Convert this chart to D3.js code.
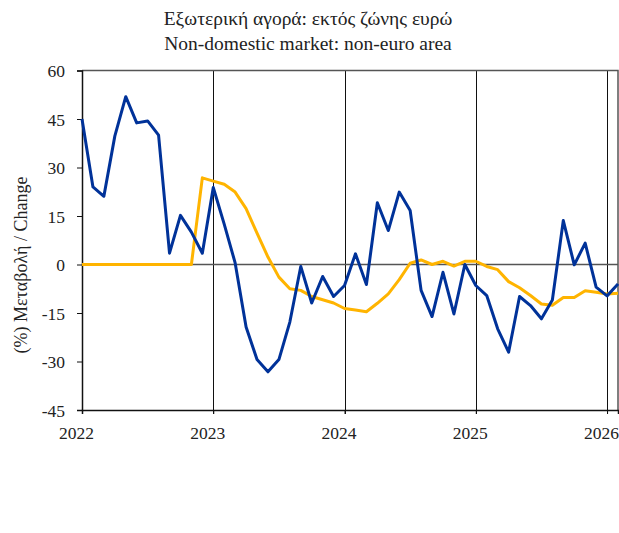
<!DOCTYPE html>
<html><head><meta charset="utf-8">
<script src="https://cdn.jsdelivr.net/npm/d3@7"></script>
<style>body{margin:0;background:#fff}svg{display:block}</style>
</head><body><svg id="c" width="619" height="533"></svg>
<script>
const titleLines = ["Εξωτερική αγορά: εκτός ζώνης ευρώ", "Non-domestic market: non-euro area"];
const yLabel = "(%) Μεταβολή / Change";
const months = ["2022-01","2022-02","2022-03","2022-04","2022-05","2022-06","2022-07","2022-08","2022-09","2022-10","2022-11","2022-12",
"2023-01","2023-02","2023-03","2023-04","2023-05","2023-06","2023-07","2023-08","2023-09","2023-10","2023-11","2023-12",
"2024-01","2024-02","2024-03","2024-04","2024-05","2024-06","2024-07","2024-08","2024-09","2024-10","2024-11","2024-12",
"2025-01","2025-02","2025-03","2025-04","2025-05","2025-06","2025-07","2025-08","2025-09","2025-10","2025-11","2025-12",
"2026-01","2026-02"];
const monthly = [45, 24, 21.1, 39.7, 51.9, 43.8, 44.4, 40, 3.5, 15.2, 10, 3.5,
 23.8, 12.5, 0.5, -19.3, -29.4, -33.2, -29.4, -17.8, -0.6, -11.9, -3.7, -9.9,
 -6.5, 3.3, -6.2, 19.1, 10.5, 22.4, 16.7, -8, -16.1, -2.4, -15.3, 0,
 -6.5, -9.6, -19.9, -27.1, -9.9, -12.7, -16.8, -11, 13.6, -0.1, 6.6, -7,
 -9.7, -6];
const average = [0, 0, 0, 0, 0, 0, 0, 0, 0, 0, 0, 26.8,
 25.8, 24.8, 22.4, 17.3, 9.7, 2.3, -3.9, -7.5, -8, -9.9, -10.9, -11.9,
 -13.6, -14.1, -14.6, -12, -9.1, -4.7, 0.4, 1.4, 0, 1, -0.5, 1,
 1, -0.6, -1.6, -5.3, -7.2, -9.6, -12.2, -12.6, -10.2, -10.2, -8.1, -8.6,
 -9.1, -8.9];
const yTicks = [60, 45, 30, 15, 0, -15, -30, -45];
const yearLabels = ["2022", "2023", "2024", "2025", "2026"];

const FONT = "Liberation Serif";
const svg = d3.select("#c");
const L = 82, R = 618, T = 70.5, B = 410;
const x = d3.scaleLinear().domain([0, months.length - 1]).range([L, R]);
const y = d3.scaleLinear().domain([-45, 60]).range([B, T]);
const idx = d => months.indexOf(d);

// year gridlines
const yearIdx = yearLabels.map(yl => idx(yl + "-01"));
svg.append("g").selectAll("line").data(yearIdx.slice(1)).join("line")
  .attr("x1", d => Math.round(x(d)) + 0.5).attr("x2", d => Math.round(x(d)) + 0.5)
  .attr("y1", T).attr("y2", B + 4).attr("stroke", "#111").attr("stroke-width", 1);

// zero line
svg.append("line").attr("x1", L).attr("x2", R).attr("y1", y(0)).attr("y2", y(0))
  .attr("stroke", "#555").attr("stroke-width", 1.5);

// frame top and right
svg.append("path").attr("d", `M${L},${T}H${R}V${B}`).attr("fill", "none").attr("stroke", "#555").attr("stroke-width", 1.5);

// y axis
const yAxis = d3.axisLeft(y).tickValues(yTicks).tickSize(5).tickPadding(12).tickFormat(d => String(d));
const gy = svg.append("g").attr("transform", `translate(${L},0)`).call(yAxis);
gy.select(".domain").attr("stroke", "#111").attr("stroke-width", 1.5);
gy.selectAll(".tick line").attr("stroke", "#111");
gy.selectAll(".tick text").attr("fill", "#222").attr("dy", "0.35em")
  .style("font-family", FONT).style("font-size", "17.5px");

// x axis
const xAxis = d3.axisBottom(x).tickValues(yearIdx).tickSize(4).tickFormat((d, i) => yearLabels[i]);
const gx = svg.append("g").attr("transform", `translate(0,${B})`).call(xAxis);
gx.select(".domain").attr("stroke", "#111").attr("stroke-width", 1.5);
gx.selectAll(".tick line").attr("stroke", "#111");
gx.selectAll(".tick text").attr("fill", "#222").attr("dx", -6).attr("y", 29).attr("dy", 0)
  .style("font-family", FONT).style("font-size", "17.5px");

// lines
const line = arr => d3.line().x((d, i) => x(i)).y(d => y(d))(arr);
svg.append("path").attr("d", line(average)).attr("fill", "none").attr("stroke", "#FFB400").attr("stroke-width", 3).attr("stroke-linejoin", "round");
svg.append("path").attr("d", line(monthly)).attr("fill", "none").attr("stroke", "#003299").attr("stroke-width", 3).attr("stroke-linejoin", "round");

// titles
svg.append("g").selectAll("text").data(titleLines).join("text")
  .attr("x", 308).attr("y", (d, i) => 25 + i * 25).attr("text-anchor", "middle")
  .style("font-family", FONT).style("font-size", "19.5px").attr("fill", "#222").text(d => d);

svg.append("text").attr("transform", "translate(27,265) rotate(-90)").attr("text-anchor", "middle")
  .style("font-family", FONT).style("font-size", "18px").attr("fill", "#222").text(yLabel);
</script></body></html>
